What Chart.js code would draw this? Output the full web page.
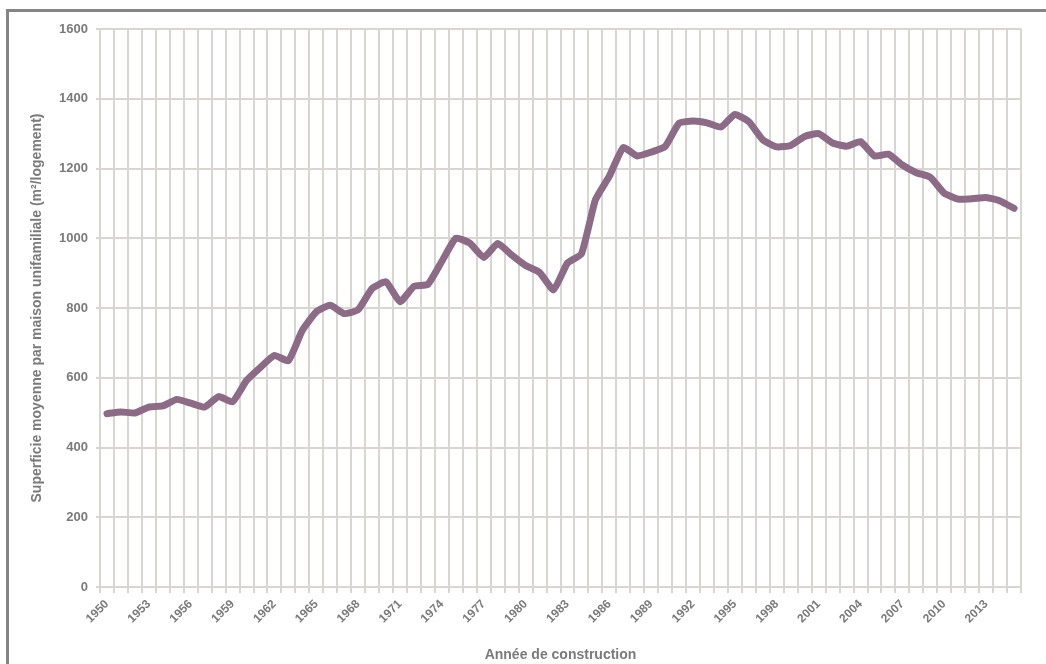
<!DOCTYPE html>
<html>
<head>
<meta charset="utf-8">
<script src="https://cdn.jsdelivr.net/npm/chart.js@4"></script>
<style>
  html, body { margin: 0; padding: 0; background: #fff; }
  #wrap { position: relative; width: 1046px; height: 664px; overflow: hidden; }
  #cadre { position: absolute; left: 6px; top: 9px; width: 1100px; height: 700px;
           border-top: 3px solid #858585; border-left: 3px solid #858585; }
  canvas { position: absolute; left: 0; top: 0; }
</style>
</head>
<body>
<div id="wrap">
  <div id="cadre"></div>
  <canvas id="graphique" width="1046" height="664"></canvas>
</div>
<script>
// années de construction 1950 - 2015
var annees = [];
for (var a = 1950; a <= 2015; a++) annees.push(String(a));

// superficie moyenne (m²/logement)
var superficie = [
  497, 502, 499, 516, 519, 538, 527, 516, 546, 531,
  592, 630, 664, 649, 736, 789, 808, 784, 795, 856,
  875, 818, 862, 868, 934, 1000, 986, 945, 985, 952,
  922, 902, 852, 929, 955, 1110, 1178, 1260, 1236, 1247,
  1263, 1330, 1336, 1331, 1319, 1355, 1334, 1282, 1262, 1266,
  1292, 1300, 1273, 1264, 1277, 1236, 1241, 1210, 1188, 1175,
  1129, 1112, 1113, 1117, 1107, 1086
];

var grille = '#d9d5d0';
var texte = '#7a7a7a';
var police = "'Liberation Sans', Arial, sans-serif";

const ctx = document.getElementById('graphique').getContext('2d');

new Chart(ctx, {
  type: 'line',
  data: {
    labels: annees,
    datasets: [{
      label: 'Superficie',
      data: superficie,
      borderColor: '#8c6b86',
      borderWidth: 7,
      pointRadius: 0,
      tension: 0.15,
      borderJoinStyle: 'round',
      borderCapStyle: 'round',
      fill: false
    }]
  },
  options: {
    responsive: false,
    animation: false,
    layout: { padding: { left: 0, right: 25, top: 29, bottom: 0 } },
    plugins: {
      legend: { display: false },
      tooltip: { enabled: false }
    },
    scales: {
      x: {
        offset: true,
        grid: { offset: true, color: grille, lineWidth: 2, tickLength: 6, drawTicks: true },
        border: { color: grille, width: 2 },
        ticks: {
          autoSkip: false,
          maxRotation: 45,
          minRotation: 45,
          padding: 4,
          color: texte,
          font: { family: police, size: 12, weight: 'bold' },
          callback: function (val, i) { return i % 3 === 0 ? annees[i] : ''; }
        },
        title: {
          display: true,
          text: 'Année de construction',
          color: texte,
          padding: { top: 0, bottom: 0 },
          font: { family: police, size: 14, weight: 'bold' }
        },
        afterFit: function (scale) { scale.height = 77; }
      },
      y: {
        min: 0,
        max: 1600,
        ticks: {
          stepSize: 200,
          padding: 8,
          color: texte,
          font: { family: police, size: 13, weight: 'bold' },
          callback: function (v) { return String(v); }
        },
        grid: { color: grille, lineWidth: 2, tickLength: 4 },
        border: { display: false },
        title: {
          display: true,
          text: 'Superficie moyenne par maison unifamiliale (m²/logement)',
          color: texte,
          padding: { top: 29, bottom: 0 },
          font: { family: police, size: 14, weight: 'bold' }
        },
        afterFit: function (scale) { scale.width = 100; }
      }
    }
  }
});
</script>
</body>
</html>
